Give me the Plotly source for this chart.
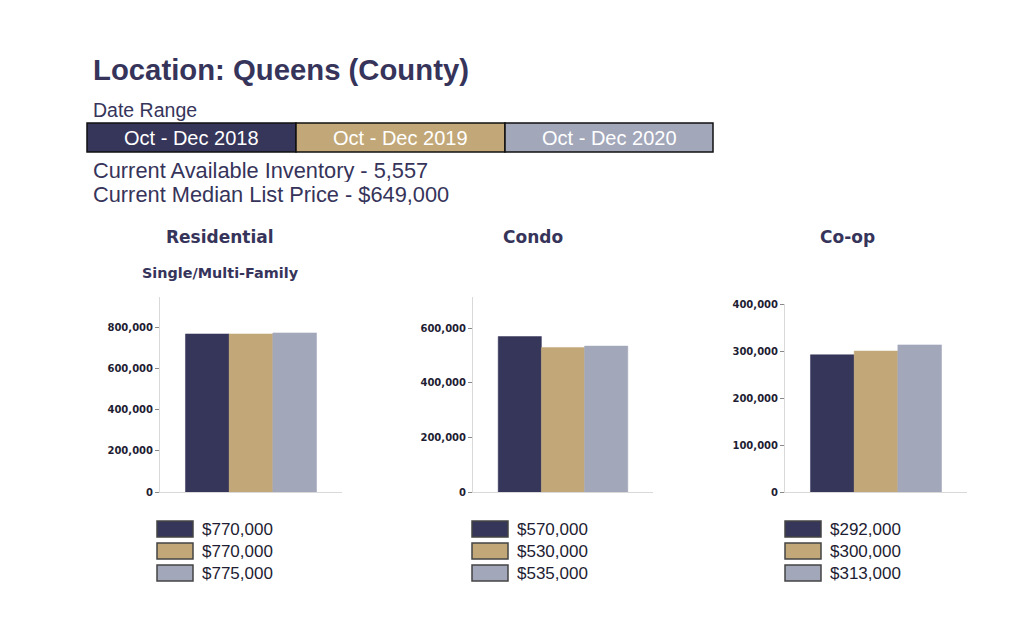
import plotly.graph_objects as go

# ---- data ----
periods = ["Oct - Dec 2018", "Oct - Dec 2019", "Oct - Dec 2020"]
colors = ["#36355a", "#c2a878", "#a2a7ba"]
categories = ["Residential", "Condo", "Co-op"]
subtitles = ["Single/Multi-Family", "", ""]
residential = [770000, 770000, 775000]
condo = [570000, 530000, 535000]
coop = [292000, 300000, 313000]
series = [residential, condo, coop]
inventory = 5557
median_list = 649000
location = "Queens (County)"

W, H = 1024, 634
NAVY = "#36345a"

def px(x):
    return x / W

def py(y):
    return 1 - y / H

fig = go.Figure()

# subplot geometry (pixels)
axes_px = [
    dict(x0=160, x1=342, top=297, bottom=492, yr=[0, 950000], tick=200000),
    dict(x0=473, x1=653, top=297, bottom=492, yr=[0, 715000], tick=200000),
    dict(x0=785, x1=967, top=304, bottom=492, yr=[0, 400000], tick=100000),
]

layout_axes = {}
for i, (cat, vals, g) in enumerate(zip(categories, series, axes_px)):
    n = "" if i == 0 else str(i + 1)
    for j, v in enumerate(vals):
        fig.add_trace(go.Bar(
            x=[cat], y=[v], name=periods[j],
            marker=dict(color=colors[j], line=dict(color=colors[j], width=0.5)),
            xaxis="x" + n, yaxis="y" + n, showlegend=False,
            hovertemplate="%{y:$,.0f}<extra>" + periods[j] + "</extra>",
        ))
    layout_axes["xaxis" + n] = dict(
        domain=[px(g["x0"]), px(g["x1"])], anchor="y" + n,
        showticklabels=False, ticks="", showline=True, linecolor="#d9d9d9",
        linewidth=1, showgrid=False, zeroline=False, fixedrange=True,
        automargin=False,
    )
    layout_axes["yaxis" + n] = dict(
        domain=[py(g["bottom"]), py(g["top"])], anchor="x" + n,
        range=g["yr"], dtick=g["tick"], tickformat=",d",
        showline=True, linecolor="#d9d9d9", linewidth=1,
        ticks="outside", ticklen=4, tickcolor="#888888", tickwidth=1,
        showgrid=False, zeroline=False, fixedrange=True, automargin=False,
        tickfont=dict(family="DejaVu Sans", size=10, color="#1e1d33", weight="bold"),
    )

annotations = []
shapes = []

# header
annotations.append(dict(
    text="Location: " + location, x=px(91), y=py(70), xref="paper", yref="paper",
    xanchor="left", yanchor="middle", showarrow=False,
    font=dict(family="Liberation Sans", size=29.3, color=NAVY, weight="bold"),
))
annotations.append(dict(
    text="Date Range", x=px(91), y=py(110), xref="paper", yref="paper",
    xanchor="left", yanchor="middle", showarrow=False,
    font=dict(family="Liberation Sans", size=19.5, color=NAVY),
))
box_x = [87, 296, 505, 713]
for j, p in enumerate(periods):
    shapes.append(dict(
        type="rect", xref="paper", yref="paper",
        x0=px(box_x[j]), x1=px(box_x[j + 1]), y0=py(152), y1=py(123),
        fillcolor=colors[j], line=dict(color="#111111", width=1.5),
    ))
    annotations.append(dict(
        text=p, x=px((box_x[j] + box_x[j + 1]) / 2), y=py(138),
        xref="paper", yref="paper", xanchor="center", yanchor="middle",
        showarrow=False, font=dict(family="Liberation Sans", size=20, color="white"),
    ))
annotations.append(dict(
    text=f"Current Available Inventory - {inventory:,}", x=px(91), y=py(170),
    xref="paper", yref="paper", xanchor="left", yanchor="middle", showarrow=False,
    height=24, font=dict(family="Liberation Sans", size=21.8, color=NAVY),
))
annotations.append(dict(
    text=f"Current Median List Price - ${median_list:,}", x=px(91), y=py(194),
    xref="paper", yref="paper", xanchor="left", yanchor="middle", showarrow=False,
    height=24, font=dict(family="Liberation Sans", size=21.8, color=NAVY),
))

# subplot titles and legends
title_cx = [220, 533, 847]
leg_x = [157, 472, 785]
for i, cat in enumerate(categories):
    annotations.append(dict(
        text=cat, x=px(title_cx[i]), y=py(237), xref="paper", yref="paper",
        xanchor="center", yanchor="middle", showarrow=False,
        font=dict(family="DejaVu Sans", size=17, color=NAVY, weight="bold"),
    ))
    if subtitles[i]:
        annotations.append(dict(
            text=subtitles[i], x=px(title_cx[i]), y=py(273), xref="paper", yref="paper",
            xanchor="center", yanchor="middle", showarrow=False,
            font=dict(family="DejaVu Sans", size=14.4, color=NAVY, weight="bold"),
        ))
    for j, v in enumerate(series[i]):
        yc = 529 + 22 * j
        shapes.append(dict(
            type="rect", xref="paper", yref="paper",
            x0=px(leg_x[i]), x1=px(leg_x[i] + 36), y0=py(yc + 8), y1=py(yc - 8),
            fillcolor=colors[j], line=dict(color="#444444", width=1.5),
        ))
        annotations.append(dict(
            text=f"${v:,}", x=px(leg_x[i] + 43), y=py(yc), xref="paper", yref="paper",
            xanchor="left", yanchor="middle", showarrow=False,
            font=dict(family="Liberation Sans", size=17, color="#1e1d33"),
        ))

fig.update_layout(
    width=W, height=H,
    margin=dict(l=0, r=0, t=0, b=0, pad=0, autoexpand=False),
    paper_bgcolor="white", plot_bgcolor="white",
    barmode="group", bargap=0.28, bargroupgap=0,
    annotations=annotations, shapes=shapes, showlegend=False,
    **layout_axes,
)

fig.write_html(
    "out.html",
    config={"displayModeBar": False},
    post_script="document.body.style.margin='0';document.body.style.overflow='hidden';",
)
